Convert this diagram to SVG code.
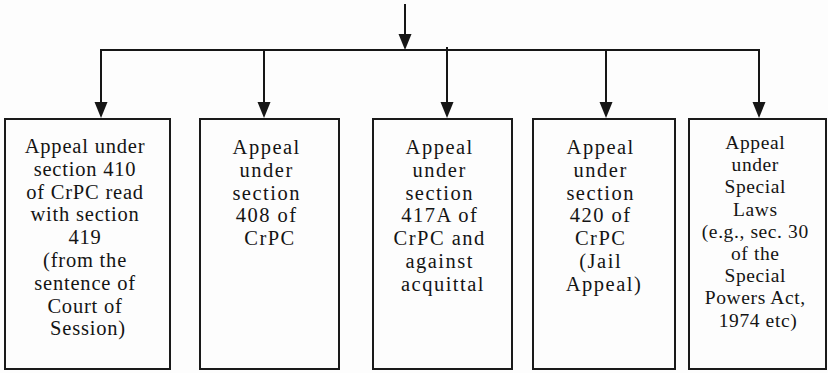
<svg xmlns="http://www.w3.org/2000/svg" width="828" height="373" viewBox="0 0 828 373">
  <defs>
    <marker id="arrow" markerUnits="userSpaceOnUse" markerWidth="16" markerHeight="14" refX="12" refY="7" orient="auto">
      <path d="M0,0.5 L16,7 L0,13.5 Z" fill="#161616"/>
    </marker>
    <style>
      .wire { stroke: #161616; stroke-width: 2; fill: none; }
      .box { fill: #fdfdfd; stroke: #1a1a1a; stroke-width: 2; }
      .lbl { font-family: "Liberation Serif", "Times New Roman", serif; fill: #141414; text-anchor: middle; }
      .s1 { font-size: 20.5px; letter-spacing: 0.8px; }
      .s2 { font-size: 20.5px; letter-spacing: 1.5px; }
      .s3 { font-size: 19.5px; letter-spacing: 0.6px; }
    </style>
  </defs>

  <rect width="828" height="373" fill="#fdfdfd"/>

  <!-- connectors -->
  <g id="connectors">
    <line class="wire" x1="405" y1="4" x2="405" y2="46" marker-end="url(#arrow)"/>
    <line class="wire" x1="100" y1="50" x2="760" y2="50"/>
    <line class="wire" x1="101" y1="49" x2="101" y2="114" marker-end="url(#arrow)"/>
    <line class="wire" x1="264" y1="49" x2="264" y2="114" marker-end="url(#arrow)"/>
    <line class="wire" x1="447" y1="47" x2="447" y2="114" marker-end="url(#arrow)"/>
    <line class="wire" x1="606" y1="49" x2="606" y2="114" marker-end="url(#arrow)"/>
    <line class="wire" x1="759" y1="49" x2="759" y2="114" marker-end="url(#arrow)"/>
  </g>

  <!-- appeal under section 410 -->
  <g id="node-s410">
    <rect class="box" x="5" y="119" width="165" height="250"/>
    <text class="lbl s1">
      <tspan x="88" y="153">Appeal under</tspan>
      <tspan x="88" y="175.8">section 410</tspan>
      <tspan x="88" y="198.6">of CrPC read</tspan>
      <tspan x="88" y="221.4">with section</tspan>
      <tspan x="88" y="244.2">419</tspan>
      <tspan x="88" y="267">(from the</tspan>
      <tspan x="88" y="289.8">sentence of</tspan>
      <tspan x="88" y="312.6">Court of</tspan>
      <tspan x="88" y="335.4">Session)</tspan>
    </text>
  </g>

  <!-- appeal under section 408 -->
  <g id="node-s408">
    <rect class="box" x="200" y="119" width="139" height="250"/>
    <text class="lbl s2">
      <tspan x="270" y="154">Appeal</tspan>
      <tspan x="270" y="176.8">under</tspan>
      <tspan x="270" y="199.6">section</tspan>
      <tspan x="270" y="222.4">408 of</tspan>
      <tspan x="270" y="245.2">CrPC</tspan>
    </text>
  </g>

  <!-- appeal under section 417A -->
  <g id="node-s417a">
    <rect class="box" x="373" y="119" width="139" height="250"/>
    <text class="lbl s2">
      <tspan x="443" y="154">Appeal</tspan>
      <tspan x="443" y="176.8">under</tspan>
      <tspan x="443" y="199.6">section</tspan>
      <tspan x="443" y="222.4">417A of</tspan>
      <tspan x="443" y="245.2">CrPC and</tspan>
      <tspan x="443" y="268">against</tspan>
      <tspan x="443" y="290.8">acquittal</tspan>
    </text>
  </g>

  <!-- appeal under section 420 (jail appeal) -->
  <g id="node-s420">
    <rect class="box" x="533" y="119" width="142" height="250"/>
    <text class="lbl s2">
      <tspan x="604" y="154">Appeal</tspan>
      <tspan x="604" y="176.8">under</tspan>
      <tspan x="604" y="199.6">section</tspan>
      <tspan x="604" y="222.4">420 of</tspan>
      <tspan x="604" y="245.2">CrPC</tspan>
      <tspan x="604" y="268">(Jail</tspan>
      <tspan x="604" y="290.8">Appeal)</tspan>
    </text>
  </g>

  <!-- appeal under special laws -->
  <g id="node-special">
    <rect class="box" x="689" y="119" width="137" height="250"/>
    <text class="lbl s3">
      <tspan x="758" y="149">Appeal</tspan>
      <tspan x="758" y="171.2">under</tspan>
      <tspan x="758" y="193.4">Special</tspan>
      <tspan x="758" y="215.6">Laws</tspan>
      <tspan x="758" y="237.8">(e.g., sec. 30</tspan>
      <tspan x="758" y="260">of the</tspan>
      <tspan x="758" y="282.2">Special</tspan>
      <tspan x="758" y="304.4">Powers Act,</tspan>
      <tspan x="758" y="326.6">1974 etc)</tspan>
    </text>
  </g>
</svg>
